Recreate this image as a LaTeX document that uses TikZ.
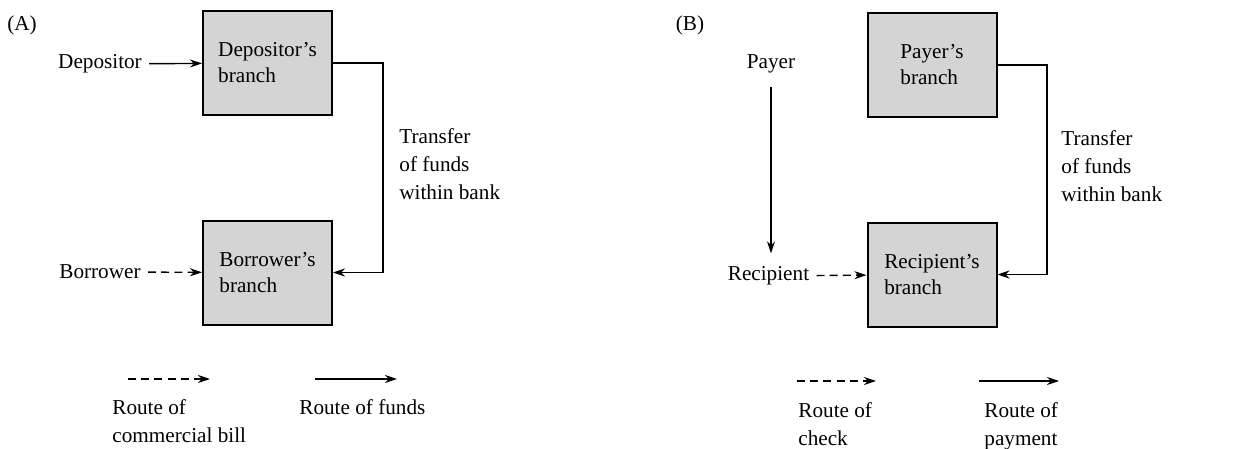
\documentclass[tikz,border=0pt]{standalone}
\usepackage{fontspec}
\setmainfont{Liberation Serif}
\usetikzlibrary{arrows.meta, positioning, calc}
\definecolor{branchgray}{gray}{0.83}

\tikzset{
  txt/.style={font=\fontsize{10.6pt}{14pt}\selectfont, inner sep=3.5pt},
  branchbox/.style={draw, line width=1pt, fill=branchgray, minimum width=64.5pt,
    minimum height=52pt, align=left, font=\fontsize{10.6pt}{13pt}\selectfont},
  fund/.style={line width=0.7pt, -{Stealth[length=6pt,width=4pt]}},
  paper/.style={fund, dash pattern=on 4pt off 2.6pt}
}

\begin{document}
\begin{tikzpicture}[x=0.5pt, y=-0.5pt]
  \useasboundingbox (0,0) rectangle (1253,449);

  % Panel A: commercial bill
  \node[txt] (labA) at (22,25) {(A)};
  \node[branchbox] (depbox) at (267.5,63) {Depositor's\\branch};
  \node[branchbox] (borbox) at (267.5,272.5) {Borrower's\\branch};
  \node[txt] (depositor) at (100,64) {Depositor};
  \node[txt] (borrower) at (100,272) {Borrower};
  \node[txt, anchor=west, align=left] (transA) at (392,164) {Transfer\\of funds\\within bank};
  \coordinate (turnA) at (383,63);
  \draw[fund] (depositor) -- (depbox);
  \draw[paper] (borrower) -- (borbox);
  \draw[fund] (depbox.east) -- (turnA) |- (borbox.east);

  % legend A
  \coordinate (dashA1) at (128,379);
  \coordinate (dashA2) at (210,379);
  \coordinate (solA1) at (315,379);
  \coordinate (solA2) at (397,379);
  \draw[paper] (dashA1) -- (dashA2);
  \draw[fund] (solA1) -- (solA2);
  \node[txt, anchor=north west, align=left] (legA1) at (105,392) {Route of\\commercial bill};
  \node[txt, anchor=north west, align=left] (legA2) at (292,392) {Route of funds};

  % Panel B: check
  \node[txt] (labB) at (690,25) {(B)};
  \node[branchbox] (paybox) at (932,65) {Payer's\\branch};
  \node[branchbox] (recbox) at (932,274.5) {Recipient's\\branch};
  \node[txt] (payer) at (771,64) {Payer};
  \node[txt] (recipient) at (768.5,276) {Recipient};
  \node[txt, anchor=west, align=left] (transB) at (1054,166) {Transfer\\of funds\\within bank};
  \coordinate (turnB) at (1047,65);
  \draw[fund, shorten <=3pt, shorten >=3pt] (payer.south) -- (payer.south |- recipient.north);
  \draw[paper] (recipient) -- (recbox);
  \draw[fund] (paybox.east) -- (turnB) |- (recbox.east);

  % legend B
  \coordinate (dashB1) at (797,381);
  \coordinate (dashB2) at (876,381);
  \coordinate (solB1) at (979,381);
  \coordinate (solB2) at (1059,381);
  \draw[paper] (dashB1) -- (dashB2);
  \draw[fund] (solB1) -- (solB2);
  \node[txt, anchor=north west, align=left] (legB1) at (791,395) {Route of\\check};
  \node[txt, anchor=north west, align=left] (legB2) at (977,395) {Route of\\payment};
\end{tikzpicture}
\end{document}
